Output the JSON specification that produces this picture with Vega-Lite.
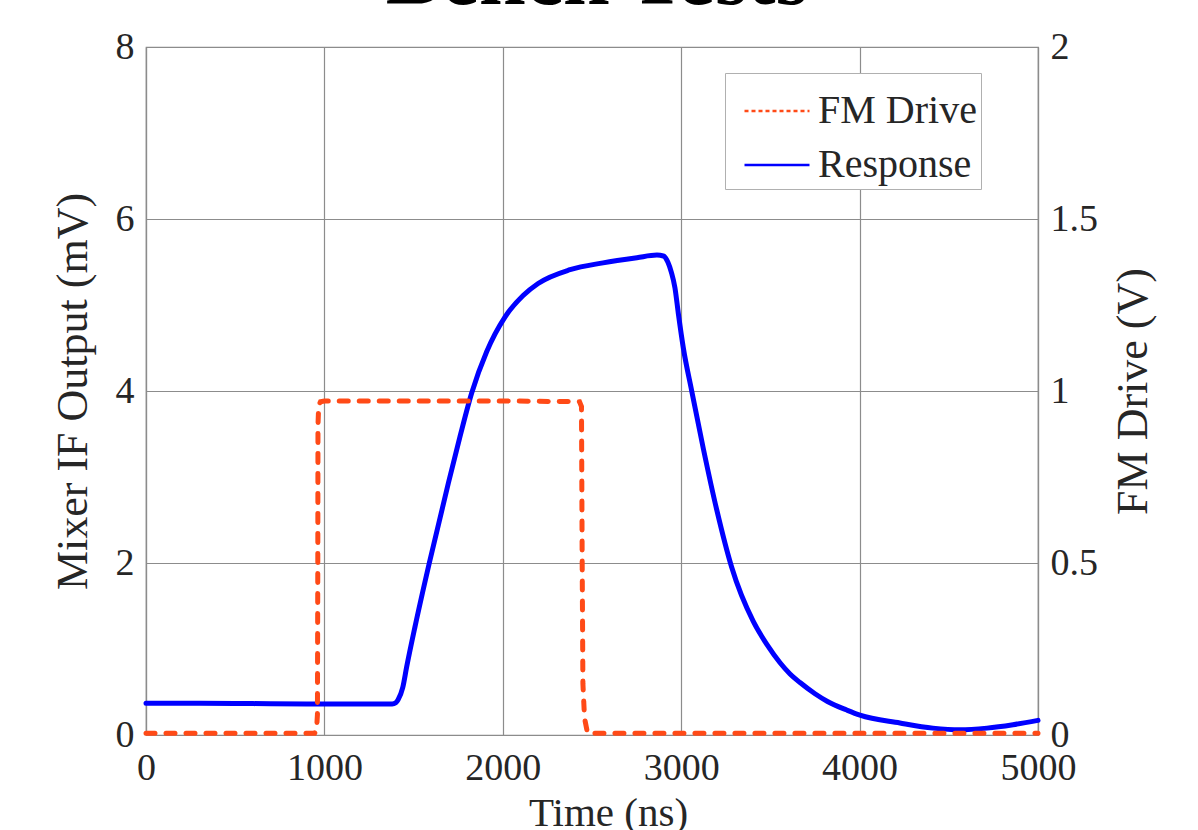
{
  "$schema": "https://vega.github.io/schema/vega-lite/v6.json",
  "autosize": {"type": "none"},
  "padding": {"left": 146, "top": 47, "right": 160, "bottom": 95},
  "width": 892,
  "height": 688,
  "background": "white",
  "title": {
    "text": "Bench Tests",
    "font": "Liberation Serif",
    "fontSize": 84,
    "fontWeight": "bold",
    "color": "#000000",
    "baseline": "alphabetic",
    "offset": 0,
    "dy": 60,
    "dx": 5
  },
  "config": {
    "font": "Liberation Serif",
    "view": {"stroke": "#8c8c8c", "strokeWidth": 1.2},
    "axis": {
      "labelFont": "Liberation Serif",
      "titleFont": "Liberation Serif",
      "labelFontSize": 38,
      "titleFontSize": 44,
      "labelColor": "#262626",
      "titleColor": "#262626",
      "titleFontWeight": "normal",
      "labelFlush": false,
      "ticks": false,
      "domainColor": "#8c8c8c",
      "domainWidth": 1.2,
      "gridColor": "#8c8c8c",
      "gridWidth": 1.2,
      "gridOpacity": 1
    }
  },
  "datasets": {
    "drive": [
      {"t": 0, "v": 0.005},
      {"t": 945, "v": 0.005},
      {"t": 956, "v": 0.015},
      {"t": 961, "v": 0.06},
      {"t": 963, "v": 0.5},
      {"t": 964, "v": 0.9},
      {"t": 968, "v": 0.958},
      {"t": 978, "v": 0.969},
      {"t": 1000, "v": 0.971},
      {"t": 2000, "v": 0.971},
      {"t": 2430, "v": 0.969},
      {"t": 2441, "v": 0.955},
      {"t": 2445, "v": 0.5},
      {"t": 2449, "v": 0.15},
      {"t": 2458, "v": 0.05},
      {"t": 2475, "v": 0.005},
      {"t": 5000, "v": 0.005}
    ],
    "response": [
      {"t": 0, "v": 0.37},
      {"t": 300, "v": 0.37},
      {"t": 600, "v": 0.365},
      {"t": 900, "v": 0.36},
      {"t": 1200, "v": 0.36},
      {"t": 1380, "v": 0.36},
      {"t": 1400, "v": 0.375},
      {"t": 1413, "v": 0.41},
      {"t": 1439, "v": 0.55},
      {"t": 1461, "v": 0.79},
      {"t": 1508, "v": 1.26},
      {"t": 1588, "v": 2.0},
      {"t": 1695, "v": 2.93},
      {"t": 1760, "v": 3.47},
      {"t": 1826, "v": 3.98},
      {"t": 1910, "v": 4.46},
      {"t": 2012, "v": 4.86},
      {"t": 2114, "v": 5.11},
      {"t": 2198, "v": 5.25},
      {"t": 2377, "v": 5.41},
      {"t": 2562, "v": 5.49},
      {"t": 2752, "v": 5.55},
      {"t": 2864, "v": 5.58},
      {"t": 2900, "v": 5.57},
      {"t": 2925, "v": 5.5},
      {"t": 2945, "v": 5.38},
      {"t": 2965, "v": 5.2},
      {"t": 2984, "v": 4.9},
      {"t": 3012, "v": 4.5},
      {"t": 3059, "v": 4.0},
      {"t": 3124, "v": 3.33},
      {"t": 3199, "v": 2.62},
      {"t": 3283, "v": 1.95},
      {"t": 3404, "v": 1.32},
      {"t": 3481, "v": 1.05},
      {"t": 3554, "v": 0.84},
      {"t": 3610, "v": 0.71},
      {"t": 3666, "v": 0.61},
      {"t": 3750, "v": 0.48},
      {"t": 3820, "v": 0.39},
      {"t": 3928, "v": 0.29},
      {"t": 4002, "v": 0.23},
      {"t": 4226, "v": 0.14},
      {"t": 4411, "v": 0.08},
      {"t": 4563, "v": 0.06},
      {"t": 4714, "v": 0.08},
      {"t": 4860, "v": 0.12},
      {"t": 5000, "v": 0.17}
    ]
  },
  "layer": [
    {
      "data": {"name": "response"},
      "mark": {"type": "line", "strokeWidth": 5, "interpolate": "monotone", "strokeCap": "round"},
      "encoding": {
        "x": {
          "field": "t",
          "type": "quantitative",
          "scale": {"domain": [0, 5000], "nice": false, "zero": false},
          "axis": {
            "title": "Time (ns)",
            "values": [0, 1000, 2000, 3000, 4000, 5000],
            "format": "d",
            "labelPadding": 14,
            "titlePadding": 6,
            "titleFontSize": 41,
            "titleX": 462,
            "grid": true
          }
        },
        "y": {
          "field": "v",
          "type": "quantitative",
          "scale": {"domain": [0, 8], "nice": false},
          "axis": {
            "title": "Mixer IF Output (mV)",
            "orient": "left",
            "values": [0, 2, 4, 6, 8],
            "labelPadding": 12,
            "titlePadding": 20,
            "grid": true
          }
        },
        "color": {
          "datum": "Response",
          "type": "nominal",
          "scale": {"domain": ["FM Drive", "Response"], "range": ["#ff4a17", "#0000ff"]},
          "legend": {
            "title": null,
            "orient": "none",
            "legendX": 579,
            "legendY": 26,
            "symbolType": "stroke",
            "symbolSize": 4225,
            "symbolStrokeWidth": 2.5,
            "symbolOffset": 14,
            "labelFont": "Liberation Serif",
            "labelFontSize": 40,
            "labelColor": "#262626",
            "labelOffset": 7,
            "rowPadding": -1,
            "padding": 4,
            "strokeColor": "#b0b0b0",
            "fillColor": "white",
            "encode": {
              "symbols": {
                "update": {
                  "strokeDash": {"signal": "datum.value === 'FM Drive' ? [4, 3] : [1, 0]"}
                }
              }
            }
          }
        }
      }
    },
    {
      "data": {"name": "drive"},
      "mark": {"type": "line", "strokeWidth": 5, "strokeDash": [9, 11], "strokeCap": "round"},
      "encoding": {
        "x": {"field": "t", "type": "quantitative"},
        "y": {
          "field": "v",
          "type": "quantitative",
          "scale": {"domain": [0, 2], "nice": false},
          "axis": {
            "title": "FM Drive (V)",
            "orient": "right",
            "values": [0, 0.5, 1, 1.5, 2],
            "format": "~g",
            "labelPadding": 12,
            "titlePadding": 58,
            "titleAngle": 270,
            "grid": false
          }
        },
        "color": {"datum": "FM Drive", "type": "nominal"}
      }
    }
  ],
  "resolve": {"scale": {"y": "independent"}}
}
